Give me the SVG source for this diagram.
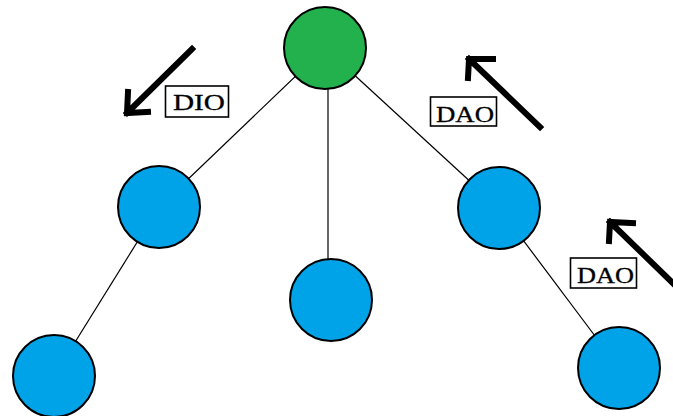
<svg xmlns="http://www.w3.org/2000/svg" width="673" height="416" viewBox="0 0 673 416">
  <style>
    .edge { stroke: #000; stroke-width: 1.2; fill: none; }
    .blue { fill: #00a2e8; stroke: #000; stroke-width: 2; }
    .green { fill: #22b14c; stroke: #000; stroke-width: 2; }
    .arrow { stroke: #000; stroke-width: 6; fill: none; stroke-linecap: square; stroke-linejoin: miter; }
    .tag { fill: #fff; stroke: #000; stroke-width: 1.6; }
    .tagtext { font-family: "Liberation Serif", "Times New Roman", serif; font-size: 23px; fill: #000; stroke: #000; stroke-width: 0.3; }
  </style>
  <rect width="673" height="416" fill="#fff"/>

  <g id="connectors">
    <line class="edge" x1="325" y1="48" x2="159" y2="207"/>
    <line class="edge" x1="328" y1="48" x2="328" y2="300"/>
    <line class="edge" x1="325" y1="48" x2="499" y2="208"/>
    <line class="edge" x1="159" y1="207" x2="54" y2="376"/>
    <line class="edge" x1="499" y1="208" x2="619" y2="368"/>
  </g>

  <g id="root"><circle class="green" cx="325" cy="48" r="41"/></g>
  <g id="node-left"><circle class="blue" cx="159" cy="207" r="41"/></g>
  <g id="node-middle"><circle class="blue" cx="331" cy="300" r="41"/></g>
  <g id="node-right"><circle class="blue" cx="499" cy="208" r="41"/></g>
  <g id="node-left-leaf"><circle class="blue" cx="54" cy="376" r="41"/></g>
  <g id="node-right-leaf"><circle class="blue" cx="619" cy="368" r="41"/></g>

  <g id="dio">
    <path class="arrow" d="M192 49 L127 113 M128 92 L127 113 L148 112"/>
    <rect class="tag" x="165.5" y="86" width="63" height="31"/>
    <text class="tagtext" x="173" y="110" textLength="52" lengthAdjust="spacingAndGlyphs">DIO</text>
  </g>

  <g id="dao-upper">
    <path class="arrow" d="M540 127 L469 59 M468 78 L469 59 L493 59"/>
    <rect class="tag" x="430.5" y="97" width="66" height="29"/>
    <text class="tagtext" x="436" y="122" textLength="58" lengthAdjust="spacingAndGlyphs">DAO</text>
  </g>

  <g id="dao-lower">
    <path class="arrow" d="M680 290 L610 222 M609 241 L610 222 L633 223"/>
    <rect class="tag" x="570.5" y="258" width="66" height="30"/>
    <text class="tagtext" x="577" y="283" textLength="57" lengthAdjust="spacingAndGlyphs">DAO</text>
  </g>
</svg>
